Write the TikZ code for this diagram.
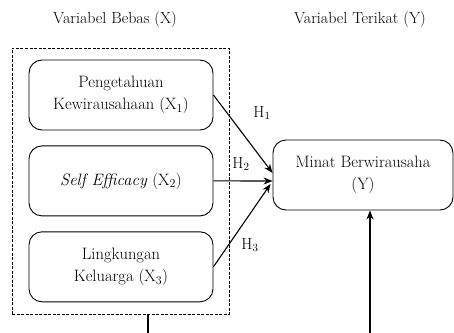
\documentclass[tikz,border=0pt]{standalone}
\usepackage{tikz}
\usetikzlibrary{arrows.meta, positioning}

\begin{document}
\begin{tikzpicture}[x=1pt, y=-1pt, >={Stealth[length=9pt,width=7pt]},
		varbox/.style={rectangle,rounded corners=13pt,draw,line width=0.9pt,minimum width=184pt,minimum height=70pt,align=center,font=\fontsize{16.5}{22}\selectfont},
		hlabel/.style={font=\fontsize{16}{18}\selectfont},
		arr/.style={->,line width=1.1pt}
		]
		\useasboundingbox (0,0) rectangle (454,332);

		\node[hlabel](TX) at (115,20){Variabel Bebas (X)};
		\node[hlabel](TY) at (360,20){Variabel Terikat (Y)};

		\node[rectangle,draw,dash pattern=on 3pt off 1.5pt,line width=0.9pt,minimum width=217pt,minimum height=266pt](bebas) at (120.5,181){};
		\node[varbox](X1) at (121,95){Pengetahuan\\Kewirausahaan (X$_1$)};
		\node[varbox, below = 15pt of X1](X2){\textit{Self Efficacy} (X$_2$)};
		\node[varbox, below = 15pt of X2](X3){Lingkungan\\Keluarga (X$_3$)};
		\node[varbox, minimum width=180pt](Y) at (363,175){Minat Berwirausaha\\(Y)};

		\draw[arr] (X1.east) --([yshift=2pt]Y.west);
		\draw[arr] (X2.east) --([yshift=-6pt]Y.west);
		\draw[arr] (X3.east) --([xshift=-2pt,yshift=-9pt]Y.west);
		\node[hlabel](H1) at (262,113){H$_1$};
		\node[hlabel](H2) at (241,164){H$_2$};
		\node[hlabel](H3) at (250,245){H$_3$};

		\coordinate (B1) at (148,340);
		\coordinate (B2) at (370,340);
		\draw[line width=1.1pt] ([xshift=27.5pt]bebas.south) --(B1);
		\draw[arr] (B2) --([xshift=7pt]Y.south);
	\end{tikzpicture}
\end{document}
